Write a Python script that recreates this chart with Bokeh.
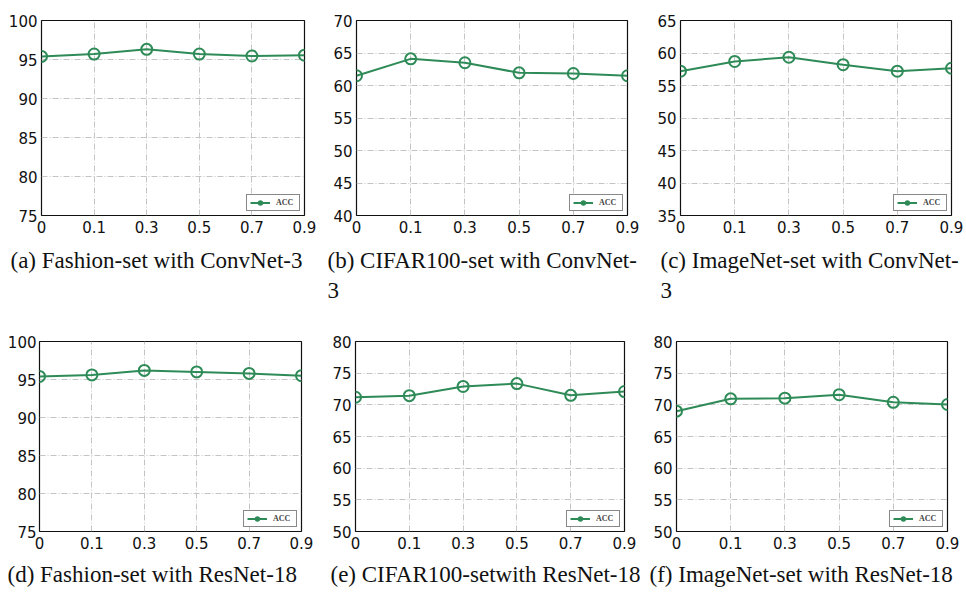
from bokeh.plotting import figure
from bokeh.layouts import column, row
from bokeh.models import Range1d, FixedTicker, Title
from bokeh.embed import file_html
from bokeh.resources import INLINE

# ---- data ----
ratio_labels = ["0", "0.1", "0.3", "0.5", "0.7", "0.9"]

acc_fashion_convnet = [95.4, 95.7, 96.3, 95.7, 95.45, 95.55]
acc_cifar_convnet = [61.5, 64.1, 63.5, 61.95, 61.85, 61.5]
acc_imagenet_convnet = [57.2, 58.7, 59.35, 58.2, 57.2, 57.65]
acc_fashion_resnet = [95.4, 95.6, 96.2, 96.0, 95.8, 95.5]
acc_cifar_resnet = [71.2, 71.45, 72.9, 73.35, 71.5, 72.1]
acc_imagenet_resnet = [69.0, 70.95, 71.05, 71.6, 70.4, 70.05]

ylim_fashion_convnet = [75, 100]
ylim_cifar_convnet = [40, 70]
ylim_imagenet_convnet = [35, 65]
ylim_fashion_resnet = [75, 100]
ylim_cifar_resnet = [50, 80]
ylim_imagenet_resnet = [50, 80]

cap_a = ["(a) Fashion-set with ConvNet-3"]
cap_b = ["(b) CIFAR100-set with ConvNet-", "3"]
cap_c = ["(c) ImageNet-set with ConvNet-", "3"]
cap_d = ["(d) Fashion-set with ResNet-18"]
cap_e = ["(e) CIFAR100-setwith ResNet-18"]
cap_f = ["(f) ImageNet-set with ResNet-18"]

GREEN = "#2e8b57"


def panel(vals, ylim, caps, width, height, bl, br, bt, bb, cap_offset,
          label_standoff=4, cap_standoffs=(20, -3), cap_lh=1.0):
    xs = list(range(len(ratio_labels)))
    p = figure(width=width, height=height, output_backend="svg", toolbar_location=None,
               x_range=Range1d(xs[0], xs[-1]), y_range=Range1d(ylim[0], ylim[1]),
               min_border_left=bl, min_border_right=br, min_border_top=bt,
               min_border_bottom=bb)
    p.title.visible = False
    p.background_fill_color = "white"
    p.border_fill_color = "white"
    p.outline_line_color = "#111111"
    p.outline_line_width = 1.2

    p.xaxis.ticker = FixedTicker(ticks=xs)
    p.xaxis.major_label_overrides = {i: lab for i, lab in zip(xs, ratio_labels)}
    p.yaxis.ticker = FixedTicker(ticks=list(range(ylim[0], ylim[1] + 1, 5)))
    for ax in (p.xaxis, p.yaxis):
        ax.axis_line_color = None
        ax.major_tick_line_color = None
        ax.minor_tick_line_color = None
        ax.major_tick_out = 0
        ax.major_tick_in = 0
        ax.major_label_text_font = "DejaVu Sans"
        ax.major_label_text_font_size = "15px"
        ax.major_label_text_color = "#111111"
    p.xaxis.major_label_standoff = 5
    p.yaxis.major_label_standoff = label_standoff

    for g in (p.xgrid, p.ygrid):
        g.grid_line_color = "#c4c4c4"
        g.grid_line_width = 1
        g.grid_line_dash = "6 2 1 2"

    p.line(xs, vals, line_color=GREEN, line_width=2, legend_label="ACC")
    p.scatter(xs, vals, marker="circle", size=11, line_color=GREEN, line_width=2,
              fill_color=None, legend_label="ACC")

    lg = p.legend[0]
    lg.location = "bottom_right"
    lg.margin = 4
    lg.padding = 3
    lg.spacing = 0
    lg.glyph_width = 20
    lg.glyph_height = 9
    lg.label_height = 9
    lg.label_standoff = 6
    lg.label_text_font = "Liberation Serif"
    lg.label_text_font_size = "8px"
    lg.label_text_font_style = "bold"
    lg.border_line_color = "#111111"
    lg.border_line_width = 1
    lg.background_fill_color = "white"
    lg.background_fill_alpha = 1

    for i, c in enumerate(caps):
        t = Title(text=c, align="left", offset=cap_offset,
                  text_font="Liberation Serif", text_font_size="23px",
                  text_font_style="normal", text_color="#111111",
                  text_line_height=cap_lh,
                  standoff=cap_standoffs[i])
        p.add_layout(t, "below")
    return p


pa = panel(acc_fashion_convnet, ylim_fashion_convnet, cap_a, 322, 320, 41, 18, 20, 105, -31)
pb = panel(acc_cifar_convnet, ylim_cifar_convnet, cap_b, 318, 320, 34, 13, 13, 105, -29)
pc = panel(acc_imagenet_convnet, ylim_imagenet_convnet, cap_c, 326, 320, 40, 15, 13, 105, -20)
pd = panel(acc_fashion_resnet, ylim_fashion_resnet, cap_d, 322, 275, 39, 21, 21, 60, -32, 3,
           (17, 0), 0.8)
pe = panel(acc_cifar_resnet, ylim_cifar_resnet, cap_e, 318, 275, 33, 16, 15, 60, -25, 4,
           (17, 0), 0.8)
pf = panel(acc_imagenet_resnet, ylim_imagenet_resnet, cap_f, 326, 275, 36, 19, 15, 60, -27, 4,
           (17, 0), 0.8)

layout = column(row(pa, pb, pc, spacing=0), row(pd, pe, pf, spacing=0), spacing=0)

open("out.html", "w").write(file_html(layout, INLINE))
